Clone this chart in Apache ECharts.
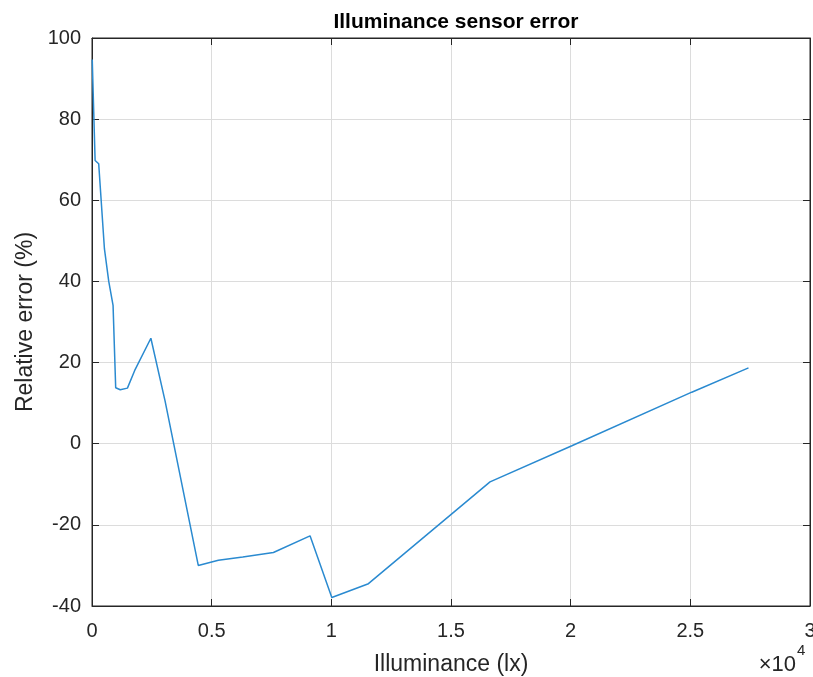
<!DOCTYPE html>
<html>
<head>
<meta charset="utf-8">
<title>Illuminance sensor error</title>
<script src="https://cdn.jsdelivr.net/npm/echarts@6/dist/echarts.min.js"></script>
<style>
  html, body { margin: 0; padding: 0; background: #fff; }
  #chart { width: 813px; height: 677px; }
</style>
</head>
<body>
<div id="chart"></div>
<script>
// illuminance (lx) and relative error (%)
var illuminance = [10, 130, 280, 520, 700, 880, 990, 1180, 1480, 1780, 2460, 3050,
  4440, 5280, 6300, 7580, 9110, 10020, 11550, 16630, 20050, 25060, 27430];
var relError = [94.7, 69.8, 69.0, 48.0, 40.0, 34.1, 13.8, 13.3, 13.7, 18.0, 26.0, 10.6,
  -30.0, -28.7, -27.9, -26.8, -22.7, -37.9, -34.5, -9.4, -0.5, 12.7, 18.7];
var xTicks = [0, 5000, 10000, 15000, 20000, 25000, 30000];

var points = illuminance.map(function (x, i) { return [x, relError[i]]; });

var ink = '#262626';
var lineColor = '#2a8ad0';
var font = '"Liberation Sans", Arial, sans-serif';

var chart = echarts.init(document.getElementById('chart'), null, { renderer: 'canvas' });

// box axes (top / right) only carry inward ticks
function boxAxis(pos, min, max, step) {
  return {
    type: 'value',
    position: pos,
    min: min, max: max, interval: step,
    axisLine: { show: true, onZero: false, lineStyle: { color: ink } },
    axisTick: { show: true, inside: true, length: 7, lineStyle: { color: ink } },
    axisLabel: { show: false },
    splitLine: { show: false }
  };
}

chart.setOption({
  animation: false,
  title: {
    text: 'Illuminance sensor error',
    left: 451,
    textAlign: 'center',
    top: 7,
    textStyle: { fontFamily: font, fontSize: 21, fontWeight: 'bold', color: '#000' }
  },
  grid: {
    left: 92, right: 3, top: 38, bottom: 71,
    outerBoundsMode: 'none',
    containLabel: false,
    show: true, borderColor: ink, borderWidth: 1
  },
  xAxis: [{
    type: 'value',
    min: 0, max: 30000, interval: 5000,
    name: 'Illuminance (lx)',
    nameLocation: 'middle',
    nameGap: 47,
    nameTextStyle: { fontFamily: font, fontSize: 23, color: ink },
    axisLine: { show: true, onZero: false, lineStyle: { color: ink } },
    axisTick: { show: true, inside: true, length: 7, lineStyle: { color: ink } },
    axisLabel: {
      margin: 15, fontFamily: font, fontSize: 20, color: ink,
      formatter: function (v) { return xTicks.indexOf(v) >= 0 ? String(v / 10000) : ''; }
    },
    splitLine: { show: true, lineStyle: { color: '#dcdcdc' } }
  }, boxAxis('top', 0, 30000, 5000)],
  yAxis: [{
    type: 'value',
    min: -40, max: 100, interval: 20,
    name: 'Relative error (%)',
    nameLocation: 'middle',
    nameGap: 55,
    nameTextStyle: { fontFamily: font, fontSize: 23, color: ink },
    axisLine: { show: true, onZero: false, lineStyle: { color: ink } },
    axisTick: { show: true, inside: true, length: 7, lineStyle: { color: ink } },
    axisLabel: { margin: 11, fontFamily: font, fontSize: 20, color: ink },
    splitLine: { show: true, lineStyle: { color: '#dcdcdc' } }
  }, boxAxis('right', -40, 100, 20)],
  // axis exponent: "×10" with a raised "4"
  graphic: [{
    type: 'text',
    x: 796,
    y: 665,
    style: {
      text: '×10', align: 'right', verticalAlign: 'middle',
      fontFamily: font, fontSize: 22, fill: ink
    }
  }, {
    type: 'text',
    x: 797,
    y: 651,
    style: {
      text: '4', align: 'left', verticalAlign: 'middle',
      fontFamily: font, fontSize: 15, fill: ink
    }
  }],
  series: [{
    type: 'line',
    data: points,
    showSymbol: false,
    lineStyle: { color: lineColor, width: 1.5 },
    itemStyle: { color: lineColor }
  }]
});
</script>
</body>
</html>
